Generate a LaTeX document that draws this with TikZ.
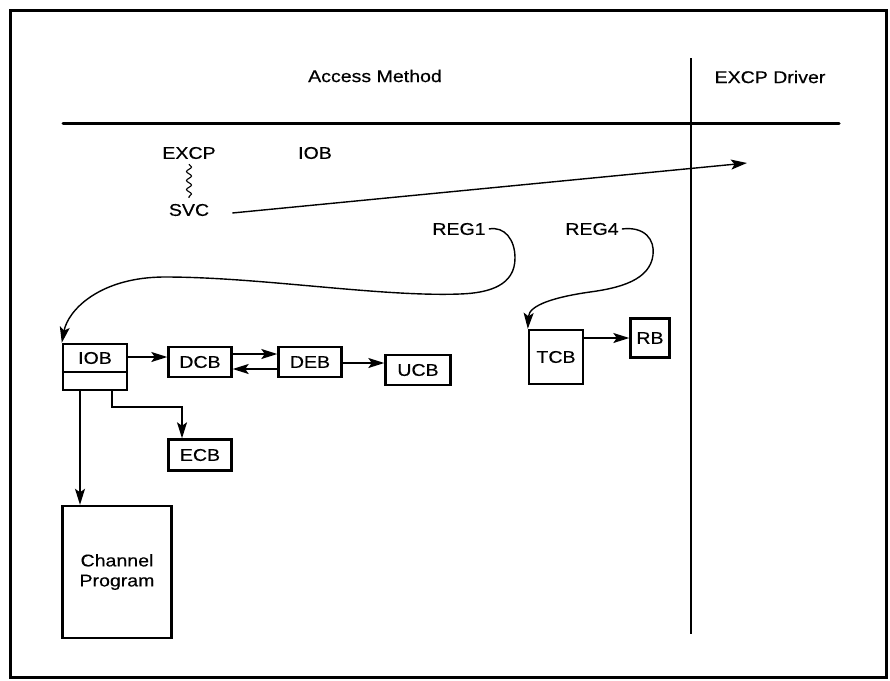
\documentclass[tikz,border=0pt]{standalone}
\usepackage{fontspec}
\setmainfont{Liberation Sans}[FakeStretch=1.15,FakeBold=0.4]
\usetikzlibrary{arrows.meta,decorations.pathmorphing}
\begin{document}
\begin{tikzpicture}[x=1pt,y=-1pt,
  txt/.style={inner sep=0pt,font=\fontsize{17}{20}\selectfont},
  blk/.style={draw,line width=2.4pt,inner sep=0pt,font=\fontsize{17}{20}\selectfont},
  arr/.style={line width=1.4pt,-{Stealth[length=16pt,width=10pt,inset=3.5pt]}},
  rule/.style={line width=3pt}]
\useasboundingbox (0,0) rectangle (890,680);
% frame and division lines
\draw[line width=3pt] (10,10) rectangle (886,677);
\coordinate (hl) at (63,123);
\coordinate (hr) at (839,123);
\coordinate (vt) at (691,58);
\coordinate (vb) at (691,634);
\draw[rule,line cap=round] (hl) -- (hr);
\draw[line width=2.5pt] (vt) -- (vb);
% headings
\node[txt] (am) at (375,76) {Access Method};
\node[txt] (ed) at (770,77) {EXCP Driver};
% EXCP / SVC
\node[txt] (excp) at (189,153) {EXCP};
\node[txt] (ioblbl) at (315,153) {IOB};
\node[txt] (svc) at (189,210) {SVC};
\draw[line width=1.1pt,decorate,decoration={snake,segment length=9pt,amplitude=2.5pt}]
  ([yshift=-5pt]excp.south) -- ([yshift=6pt]svc.north);
\coordinate (drv) at (747,163);
\draw[arr] ([shift={(23pt,-3pt)}]svc.east) -- (drv);
% registers
\node[txt] (reg1) at (459,229) {REG1};
\node[txt] (reg4) at (592,229) {REG4};
% blocks
\node[blk,minimum width=64pt,minimum height=46pt] (iob) at (95,367) {};
\node[txt] (iobt) at (95,358) {IOB};
\draw[line width=2.4pt] (iob.west |- 0,372) -- (iob.east |- 0,372);
\node[blk,minimum width=63pt,minimum height=30pt] (dcb) at (200,362) {DCB};
\node[blk,minimum width=63pt,minimum height=30pt] (deb) at (310,362) {DEB};
\node[blk,minimum width=65pt,minimum height=30pt] (ucb) at (418,370) {UCB};
\node[blk,minimum width=63pt,minimum height=31pt] (ecb) at (200,455) {ECB};
\node[blk,minimum width=109pt,minimum height=132pt,align=center] (cp) at (117,572) {Channel\\Program};
\node[blk,minimum width=54pt,minimum height=54pt] (tcb) at (556,357) {TCB};
\node[blk,minimum width=39pt,minimum height=39pt] (rb) at (650,338) {RB};
% connectors
\draw[arr] (iob.east |- 0,357) -- (dcb.west |- 0,357);
\draw[arr] (dcb.east |- 0,354) -- (deb.west |- 0,354);
\draw[arr] (deb.west |- 0,369) -- (dcb.east |- 0,369);
\draw[arr] (deb.east |- 0,363) -- (ucb.west |- 0,363);
\draw[arr] (iob.south -| 112,0) |- (182,407) -- (ecb.north -| 182,0);
\draw[arr] (iob.south -| 80,0) -- (cp.north -| 80,0);
\draw[arr] (tcb.east |- 0,338) -- (rb.west |- 0,338);
% register curves
\draw[arr] ([xshift=3pt]reg1.east) .. controls (505,226) and (515,240) .. (515,258)
  .. controls (515,285) and (490,293) .. (460,294)
  .. controls (380,297) and (260,277) .. (165,277)
  .. controls (100,277) and (68,310) .. (iob.north west);
\draw[arr] ([xshift=3pt]reg4.east) .. controls (645,226) and (655,240) .. (653,255)
  .. controls (650,280) and (620,288) .. (590,292)
  .. controls (555,297) and (529,305) .. (tcb.north west);
\end{tikzpicture}
\end{document}
